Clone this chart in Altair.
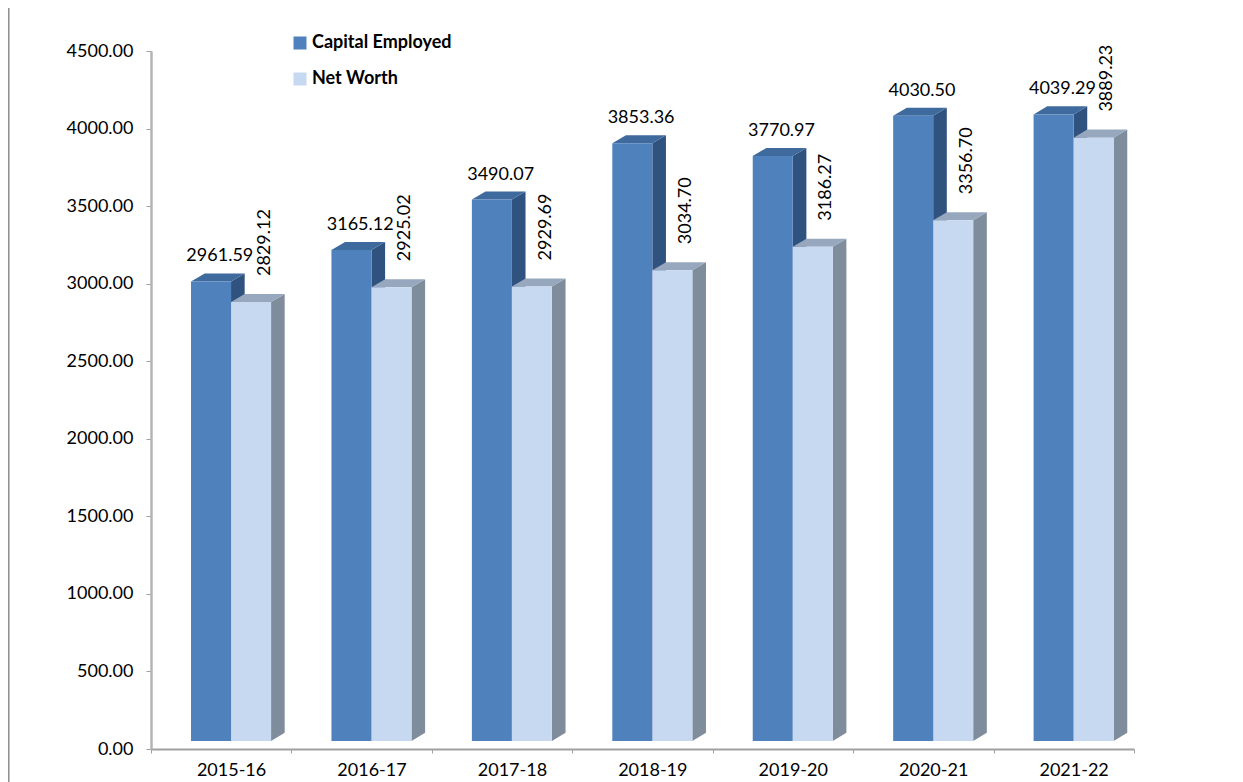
import json
import altair as alt
import pandas as pd

# ---- data ----
years = ["2015-16", "2016-17", "2017-18", "2018-19", "2019-20", "2020-21", "2021-22"]
capital_employed = [2961.59, 3165.12, 3490.07, 3853.36, 3770.97, 4030.50, 4039.29]
net_worth = [2829.12, 2925.02, 2929.69, 3034.70, 3186.27, 3356.70, 3889.23]
series_names = ["Capital Employed", "Net Worth"]
y_ticks = [0, 500, 1000, 1500, 2000, 2500, 3000, 3500, 4000, 4500]

# ---- 3D-look geometry (in data units of the category/value scales) ----
BAR_W = 0.285          # front face width, per category unit
START = {"Capital Employed": 0.285, "Net Worth": 0.570}
DX = 0.097             # depth, horizontal
LIFT = 52              # floor lift of the front faces
DZ = 52                # depth, vertical
FONT = "Lato"

front_rows, side_rows, top_rows = [], [], []
for i, yr in enumerate(years):
    for s, vals in zip(series_names, [capital_employed, net_worth]):
        v = vals[i]
        x0 = i + START[s]
        x1 = x0 + BAR_W
        front_rows.append(dict(year=yr, series=s, value=v, x0=x0, x1=x1, y0=LIFT, y1=v + LIFT))
        for t in (0, 1):
            side_rows.append(dict(key=f"{yr}-{s}", series=s, x=x1 + t * DX,
                                  lo=LIFT + t * DZ, hi=v + LIFT + t * DZ))
        top = v + LIFT
        for (xx, lo, hi) in [(x0, top, top), (x0 + DX, top, top + DZ),
                             (x1, top, top + DZ), (x1 + DX, top + DZ, top + DZ)]:
            top_rows.append(dict(key=f"{yr}-{s}", series=s, x=xx, lo=lo, hi=hi))

front = pd.DataFrame(front_rows)
side = pd.DataFrame(side_rows)
topf = pd.DataFrame(top_rows)

label_ce = pd.DataFrame(dict(x=[i + 0.49 for i in range(len(years))],
                             y=[v + LIFT + DZ for v in capital_employed],
                             value=capital_employed))
label_nw = pd.DataFrame(dict(x=[i + 0.845 for i in range(len(years))],
                             y=[v + LIFT + DZ for v in net_worth],
                             value=net_worth))

xscale = alt.Scale(domain=[0, len(years)], nice=False, zero=False)
yscale = alt.Scale(domain=[0, 4500], nice=False)

label_pos = [i + 0.57 for i in range(len(years))]
tick_pos = list(range(len(years) + 1))
x_axis = alt.Axis(
    values=sorted(tick_pos + label_pos),
    labelExpr=f"datum.value % 1 == 0 ? '' : {json.dumps(years)}[floor(datum.value)]",
    tickOpacity={"condition": {"test": "datum.value % 1 != 0", "value": 0}, "value": 1},
    title=None, grid=False, labelOverlap=False, labelFlush=False,
    domainColor="#A0A0A0", domainWidth=2, tickColor="#A0A0A0", tickSize=4,
    labelFont=FONT, labelFontSize=18, labelColor="black", labelPadding=8,
)
y_axis = alt.Axis(
    values=y_ticks, format=".2f", title=None, grid=False,
    domainColor="#B4B4B4", domainWidth=2.5, tickColor="#A0A0A0", tickSize=5,
    labelFont=FONT, labelFontSize=18, labelColor="black", labelPadding=13,
)

colors = {
    "Capital Employed": {"front": "#4F81BD", "side": "#30527F", "top": "#3F6A9E"},
    "Net Worth": {"front": "#C6D9F1", "side": "#7F8C9C", "top": "#97A8BE"},
}

layers = []
for s in series_names:
    sd = side[side.series == s]
    td = topf[topf.series == s]
    layers.append(
        alt.Chart(sd).mark_area(color=colors[s]["side"], interpolate="linear").encode(
            x=alt.X("x:Q", scale=xscale, axis=x_axis),
            y=alt.Y("lo:Q", scale=yscale, axis=y_axis),
            y2="hi:Q",
            detail="key:N",
        )
    )
    layers.append(
        alt.Chart(td).mark_area(color=colors[s]["top"], interpolate="linear").encode(
            x=alt.X("x:Q", scale=xscale, axis=x_axis),
            y=alt.Y("lo:Q", scale=yscale, axis=y_axis),
            y2="hi:Q",
            detail="key:N",
        )
    )
    layers.append(
        alt.Chart(front[front.series == s]).mark_rect().encode(
            x=alt.X("x0:Q", scale=xscale, axis=x_axis),
            x2="x1:Q",
            y=alt.Y("y0:Q", scale=yscale, axis=y_axis),
            y2="y1:Q",
            color=alt.Color(
                "series:N",
                scale=alt.Scale(domain=series_names,
                                range=[colors[n]["front"] for n in series_names]),
                legend=alt.Legend(
                    title=None, orient="none", legendX=140, legendY=-17,
                    symbolType="square", symbolSize=169, symbolStrokeWidth=0,
                    symbolOpacity=1, labelFont=FONT, labelFontSize=18,
                    labelFontWeight="bold", labelColor="black",
                    rowPadding=18, labelOffset=3, padding=0,
                ),
            ),
        )
    )

text_ce = alt.Chart(label_ce).mark_text(
    font=FONT, fontSize=18, color="black", align="center", baseline="alphabetic", dy=-12
).encode(
    x=alt.X("x:Q", scale=xscale, axis=x_axis),
    y=alt.Y("y:Q", scale=yscale, axis=y_axis),
    text=alt.Text("value:Q", format=".2f"),
)
text_nw = alt.Chart(label_nw).mark_text(
    font=FONT, fontSize=18, color="black", align="left", baseline="alphabetic",
    angle=270, dx=18
).encode(
    x=alt.X("x:Q", scale=xscale, axis=x_axis),
    y=alt.Y("y:Q", scale=yscale, axis=y_axis),
    text=alt.Text("value:Q", format=".2f"),
)

frame = alt.Chart(alt.Data(values=[{}])).mark_rule(color="#8C8C8C", strokeWidth=1.5).encode(
    x=alt.value(-142.2), y=alt.value(-45), y2=alt.value(760)
)

chart = alt.layer(*layers, text_ce, text_nw, frame).properties(
    width=983, height=698,
    autosize=alt.AutoSizeParams(type="none"),
    padding={"left": 143, "top": 43, "right": 101, "bottom": 33},
    background="white",
).configure_view(stroke=None)

chart.save("out.html", embed_options={"renderer": "svg", "actions": False})
